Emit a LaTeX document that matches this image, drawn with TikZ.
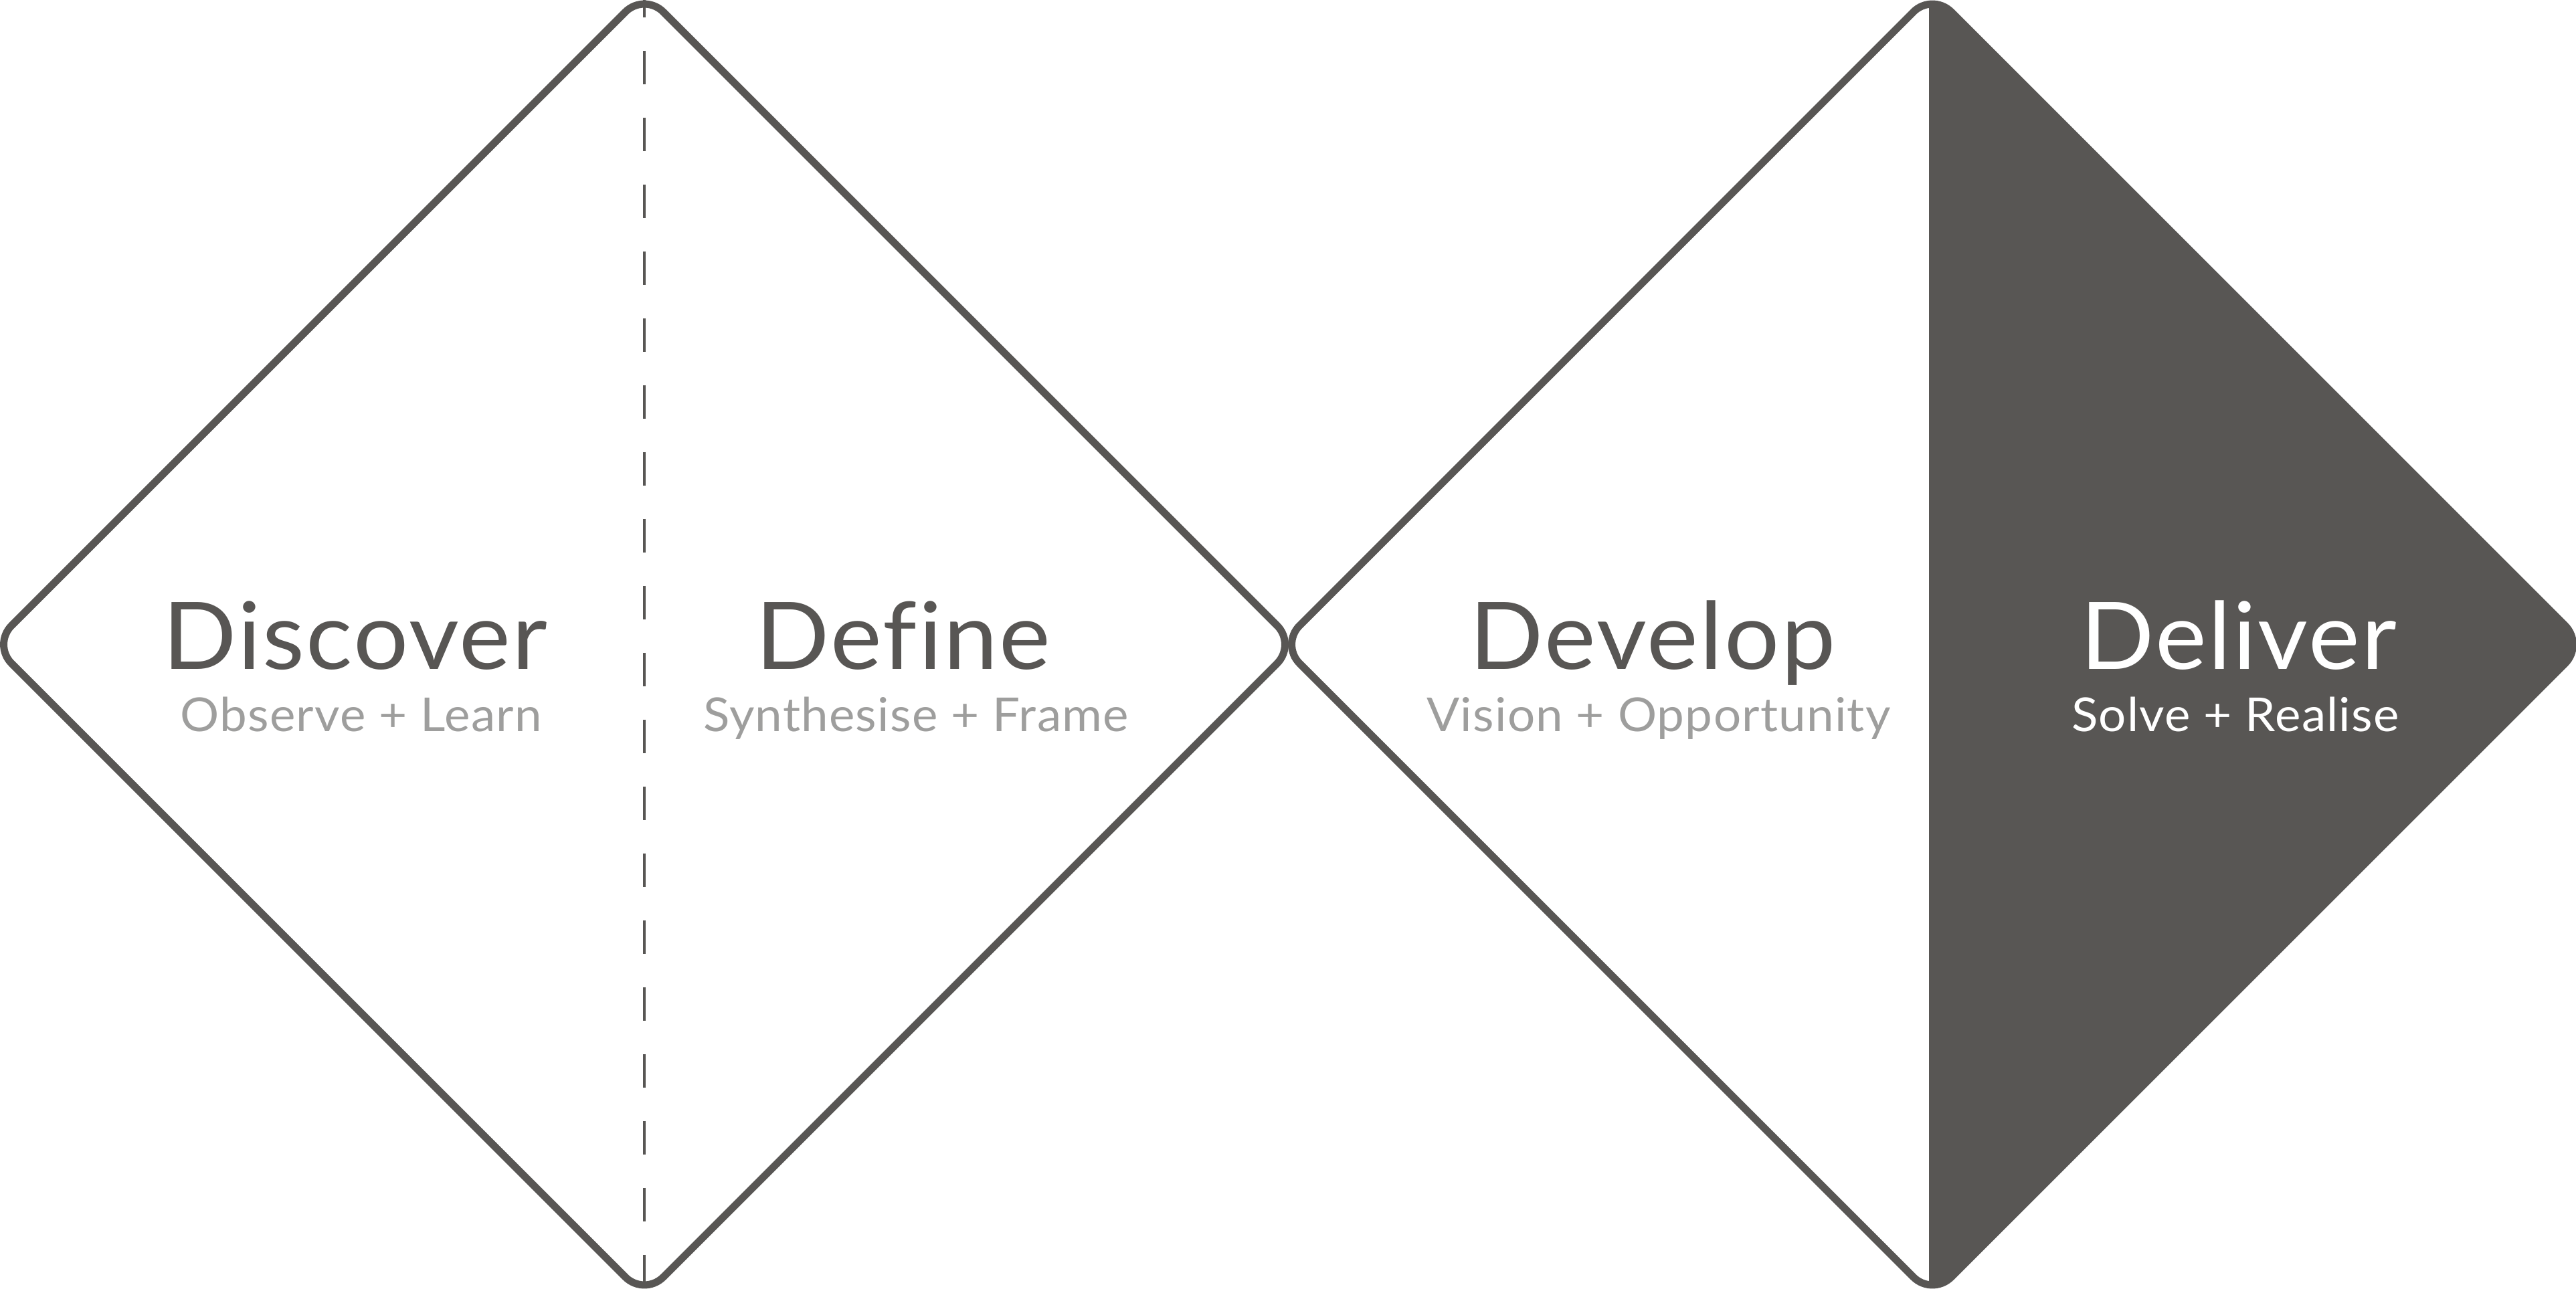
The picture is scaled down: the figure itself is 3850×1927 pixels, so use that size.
\documentclass[tikz,border=0pt]{standalone}
\usepackage{fontspec}
\setmainfont{Lato}[Ligatures=NoCommon,FakeStretch=1.04,LetterSpace=1.8]
\usepackage{xcolor}
\usepackage{tikz}
\usetikzlibrary{calc}
\definecolor{slate}{HTML}{585654}
\definecolor{mist}{HTML}{9E9E9D}

\begin{document}
\begin{tikzpicture}[
  x=0.1mm, y=-0.1mm,
  edge/.style={draw=slate,line width=1.1mm,rounded corners=4mm,line join=round},
  split/.style={draw=slate,line width=0.4mm,dash pattern=on 5mm off 5mm,dash phase=2.4mm},
  stagename/.style={anchor=base,inner sep=0pt,text=slate,font=\fontsize{39.7}{42}\selectfont},
  stagenote/.style={anchor=base,inner sep=0pt,text=mist,font=\fontsize{19.9}{22}\selectfont}
]
\useasboundingbox (0,0) rectangle (3850,1927);
\coordinate (lc) at (963,963.5);
\coordinate (rc) at (2888,963.5);

% dark half of the second diamond
\begin{scope}
  \clip[rounded corners=4mm] ($(rc)+(-974,0)$) -- ($(rc)+(0,-974)$) -- ($(rc)+(974,0)$) -- ($(rc)+(0,974)$) -- cycle;
  \fill[slate] (2883,0) rectangle (3900,1927);
\end{scope}

% outlines
\draw[edge] ($(lc)+(-974,0)$) -- ($(lc)+(0,-974)$) -- ($(lc)+(974,0)$) -- ($(lc)+(0,974)$) -- cycle;
\draw[edge] ($(rc)+(-974,0)$) -- ($(rc)+(0,-974)$) -- ($(rc)+(974,0)$) -- ($(rc)+(0,974)$) -- cycle;
\draw[split] (963,0) -- (963,1927);

\node[stagename] (discover) at (531,1000) {Discover};
\node[stagenote] (observe) at (540,1093) {Observe + Learn};
\node[stagename] (define) at (1350,1000) {Define};
\node[stagenote] (synthesise) at (1369,1093) {Synthesise + Frame};
\node[stagename] (develop) at (2470,1000) {Develop};
\node[stagenote] (vision) at (2479,1093) {Vision + Opportunity};
\node[stagename,text=white] (deliver) at (3346,1000) {Deliver};
\node[stagenote,text=white] (solve) at (3341,1093) {Solve + Realise};
\end{tikzpicture}
\end{document}
